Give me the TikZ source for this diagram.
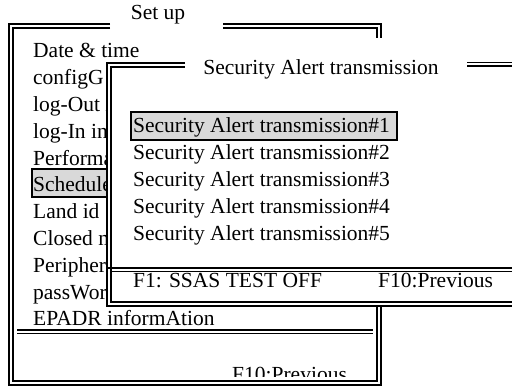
\documentclass[tikz,border=0pt]{standalone}
\usepackage{fontspec}
\setmainfont{Liberation Serif}
\begin{document}
\begin{tikzpicture}[x=1pt,y=-1pt,font=\fontsize{21.5}{26}\selectfont,
	frameout/.style={line width=1.6pt},framein/.style={line width=1.1pt},
	item/.style={anchor=base west,inner sep=0pt},
	selbox/.style={draw,line width=1.4pt,fill=black!15}]
		\clip(0,0)rectangle(512,387);
		\draw[frameout](110,24)--(9,24)--(9,385)--(381,385)--(381,24)--(223,24);
		\draw[framein](110,28)--(13,28)--(13,381)--(377,381)--(377,28)--(223,28);
		\node[anchor=base,inner sep=0pt](setup)at(158,20){Set up};
		\draw[selbox](32,169)rectangle(108,197);
		\foreach \t[count=\i from 0] in {Date \& time,configG,log-Out i,log-In ini,Performa,Schedule,Land id,Closed m,Peripher,passWor,EPADR informAtion}
			\node[item](m\i)at(33,58+26.8*\i){\t};
		\draw[frameout](17,330)--(373,330);
		\draw[framein](17,333.5)--(373,333.5);
		\begin{scope}
			\clip(13,334)rectangle(377,377);
			\node[item](prev)at(232,382){F10:Previous};
		\end{scope}
		\fill[white](107,63)rectangle(520,306);
		\draw[frameout](185,63)--(107,63)--(107,306)--(520,306);
		\draw[framein](185,67)--(111,67)--(111,302)--(520,302);
		\draw[frameout](107,268)--(520,268);
		\draw[framein](111,271.5)--(520,271.5);
		\fill[white](185,38)rectangle(467,100);
		\draw[frameout](467,62.5)--(520,62.5);
		\draw[framein](467,66)--(520,66);
		\node[anchor=base,inner sep=0pt](sattl)at(321,75){Security Alert transmission};
		\draw[selbox](131,112)rectangle(397,140);
		\foreach \i in {1,...,5}
			\node[item](sa\i)at(133,106+27*\i){Security Alert transmission\#\i};
		\node[item](ssas)at(133,288){F1: SSAS TEST OFF};
		\node[item](saprev)at(378,288){F10:Previous};
	    \end{tikzpicture}
\end{document}
